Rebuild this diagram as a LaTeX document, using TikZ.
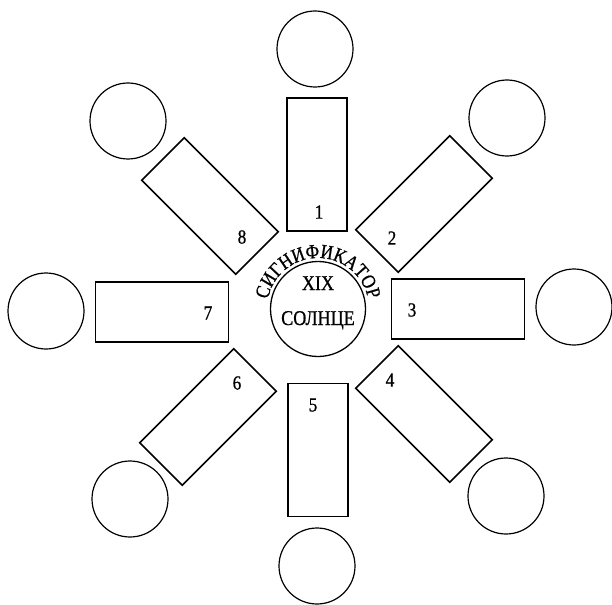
\documentclass[tikz,border=0pt]{standalone}
\usepackage{fontspec}
\setmainfont{Liberation Serif}
\newfontfamily\signfont[FakeStretch=0.86, FakeBold=0.8]{Liberation Serif}
\usetikzlibrary{decorations.text}

\begin{document}
\begin{tikzpicture}[
  x=1pt, y=1pt,
  house/.style={draw, line width=1.6pt, minimum width=60pt, minimum height=133pt,
    inner sep=0pt},
  planet/.style={draw, circle, line width=1.2pt, minimum size=76pt, inner sep=0pt},
  sun/.style={draw, circle, line width=1.3pt, minimum size=95pt, inner sep=0pt},
  num/.style={font=\signfont\fontsize{20}{20}\selectfont, inner sep=0pt},
  title/.style={font=\signfont\fontsize{21}{21}\selectfont, inner sep=0pt, anchor=base}
]
\useasboundingbox (0,0) rectangle (612,-604);

% significator in the middle
\node[sun] (sig) at (318,-309) {};
\node[title] (xix) at (318,-290) {XIX};
\node[title] (solnce) at (318,-325) {СОЛНЦЕ};
\path[decorate, decoration={text along path, text align=center,
    text={|\signfont\fontsize{20}{20}\selectfont|СИГНИФИКАТОР}}]
  (sig.center) ++(176:51) arc[start angle=176, end angle=4, radius=51];

% houses
\node[house] (house1) at (317,-164.5) {};
\node[house, rotate=-45] (house2) at (424,-204) {};
\node[house, rotate=90] (house3) at (458,-309) {};
\node[house, rotate=45] (house4) at (424,-414) {};
\node[house] (house5) at (318,-450) {};
\node[house, rotate=-45] (house6) at (208,-417) {};
\node[house, rotate=90] (house7) at (162,-312) {};
\node[house, rotate=45] (house8) at (210,-206) {};

\node[num] (n1) at (319,-212) {1};
\node[num] (n2) at (392,-238) {2};
\node[num] (n3) at (412,-310) {3};
\node[num] (n4) at (390,-380) {4};
\node[num] (n5) at (313,-405) {5};
\node[num] (n6) at (237,-383) {6};
\node[num] (n7) at (208,-313) {7};
\node[num] (n8) at (242,-237) {8};

% outer circles
\node[planet] (p1) at (315,-49) {};
\node[planet] (p2) at (507,-118) {};
\node[planet] (p3) at (574,-307) {};
\node[planet] (p4) at (506,-496) {};
\node[planet] (p5) at (317,-566) {};
\node[planet] (p6) at (130,-499) {};
\node[planet] (p7) at (46,-311) {};
\node[planet] (p8) at (128,-121) {};
\end{tikzpicture}
\end{document}
